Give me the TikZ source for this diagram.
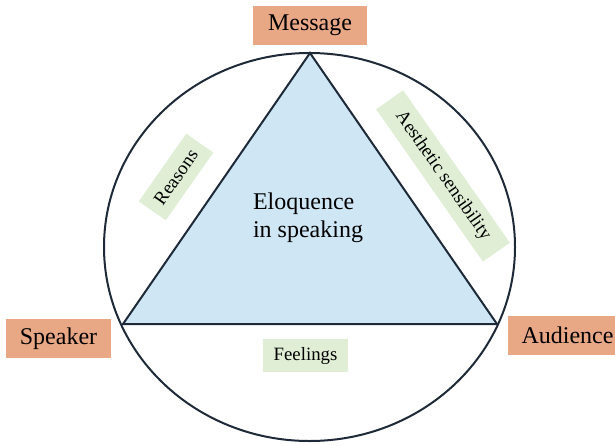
\documentclass[tikz,border=0pt]{standalone}
\usepackage{fontspec}
\setmainfont{Liberation Serif}

\definecolor{lachs}{HTML}{E8A785}
\definecolor{blassgruen}{HTML}{DFEED5}
\definecolor{hellblau}{HTML}{CFE7F5}
\definecolor{linie}{HTML}{1E2A38}

\begin{document}
\begin{tikzpicture}[x=0.5pt,y=-0.5pt,
        ecke/.style={fill=lachs, minimum height=19.5pt, inner xsep=7pt, font=\fontsize{12}{14}\selectfont},
        aspekt/.style={fill=blassgruen, minimum height=16.5pt, inner xsep=5pt, font=\fontsize{9.4}{11}\selectfont}]
        \useasboundingbox (0,0) rectangle (615,445);

        % Kreis
        \draw[linie, line width=1pt] (309.5,247) ellipse [x radius=102.75pt, y radius=97pt];

        % Dreieck
        \coordinate (M) at (310,53);
        \coordinate (S) at (123,324);
        \coordinate (A) at (497,324);
        \filldraw[fill=hellblau, draw=linie, line width=1pt] (M) -- (S) -- (A) -- cycle;

        % Ecken
        \node[ecke, minimum width=57pt] (message) at (310,25.5) {Message};
        \node[ecke, minimum width=49.5pt] (speaker) at (58.5,338.5) {Speaker};
        \node[ecke, minimum width=57.5pt] (audience) at (567.5,335.5) {Audience};

        % Mitte
        \node[align=left, font=\fontsize{12}{14}\selectfont] (kern) at (308,218) {Eloquence\\in speaking};

        % Seiten
        \node[aspekt, rotate=55, minimum width=40pt] (reasons) at (176,177) {Reasons};
        \node[aspekt, rotate=-55, minimum width=93pt] (aesthetic) at (443,176) {Aesthetic sensibility};
        \node[aspekt, minimum width=42.5pt] (feelings) at (305.5,355.5) {Feelings};
    \end{tikzpicture}
\end{document}
